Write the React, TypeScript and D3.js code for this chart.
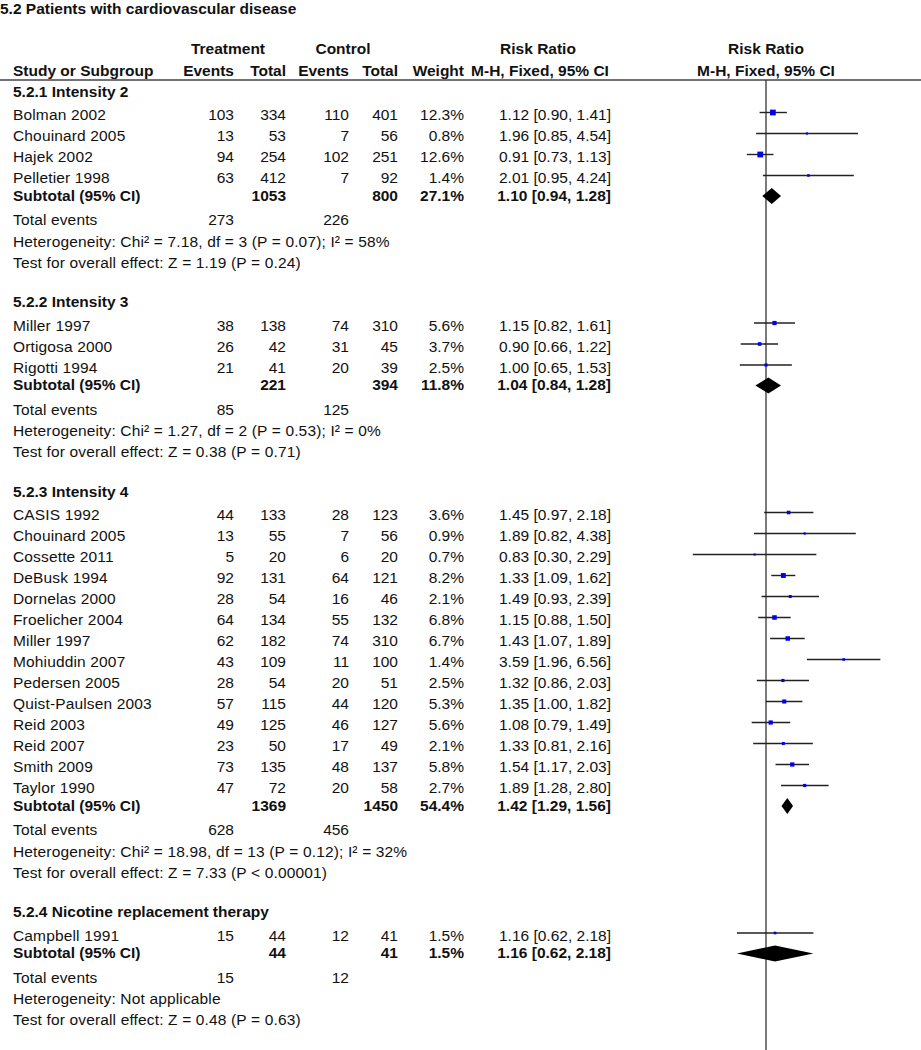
import React from 'react';
import * as d3 from 'd3';

type Study = { name: string; te: number; tt: number; ce: number; ct: number; w: number; rr: number; lo: number; hi: number };

const groupTitles = [
  '5.2.1 Intensity 2',
  '5.2.2 Intensity 3',
  '5.2.3 Intensity 4',
  '5.2.4 Nicotine replacement therapy',
];

const intensity2: Study[] = [
  { name: 'Bolman 2002', te: 103, tt: 334, ce: 110, ct: 401, w: 12.3, rr: 1.12, lo: 0.90, hi: 1.41 },
  { name: 'Chouinard 2005', te: 13, tt: 53, ce: 7, ct: 56, w: 0.8, rr: 1.96, lo: 0.85, hi: 4.54 },
  { name: 'Hajek 2002', te: 94, tt: 254, ce: 102, ct: 251, w: 12.6, rr: 0.91, lo: 0.73, hi: 1.13 },
  { name: 'Pelletier 1998', te: 63, tt: 412, ce: 7, ct: 92, w: 1.4, rr: 2.01, lo: 0.95, hi: 4.24 },
];

const intensity3: Study[] = [
  { name: 'Miller 1997', te: 38, tt: 138, ce: 74, ct: 310, w: 5.6, rr: 1.15, lo: 0.82, hi: 1.61 },
  { name: 'Ortigosa 2000', te: 26, tt: 42, ce: 31, ct: 45, w: 3.7, rr: 0.90, lo: 0.66, hi: 1.22 },
  { name: 'Rigotti 1994', te: 21, tt: 41, ce: 20, ct: 39, w: 2.5, rr: 1.00, lo: 0.65, hi: 1.53 },
];

const intensity4: Study[] = [
  { name: 'CASIS 1992', te: 44, tt: 133, ce: 28, ct: 123, w: 3.6, rr: 1.45, lo: 0.97, hi: 2.18 },
  { name: 'Chouinard 2005', te: 13, tt: 55, ce: 7, ct: 56, w: 0.9, rr: 1.89, lo: 0.82, hi: 4.38 },
  { name: 'Cossette 2011', te: 5, tt: 20, ce: 6, ct: 20, w: 0.7, rr: 0.83, lo: 0.30, hi: 2.29 },
  { name: 'DeBusk 1994', te: 92, tt: 131, ce: 64, ct: 121, w: 8.2, rr: 1.33, lo: 1.09, hi: 1.62 },
  { name: 'Dornelas 2000', te: 28, tt: 54, ce: 16, ct: 46, w: 2.1, rr: 1.49, lo: 0.93, hi: 2.39 },
  { name: 'Froelicher 2004', te: 64, tt: 134, ce: 55, ct: 132, w: 6.8, rr: 1.15, lo: 0.88, hi: 1.50 },
  { name: 'Miller 1997', te: 62, tt: 182, ce: 74, ct: 310, w: 6.7, rr: 1.43, lo: 1.07, hi: 1.89 },
  { name: 'Mohiuddin 2007', te: 43, tt: 109, ce: 11, ct: 100, w: 1.4, rr: 3.59, lo: 1.96, hi: 6.56 },
  { name: 'Pedersen 2005', te: 28, tt: 54, ce: 20, ct: 51, w: 2.5, rr: 1.32, lo: 0.86, hi: 2.03 },
  { name: 'Quist-Paulsen 2003', te: 57, tt: 115, ce: 44, ct: 120, w: 5.3, rr: 1.35, lo: 1.00, hi: 1.82 },
  { name: 'Reid 2003', te: 49, tt: 125, ce: 46, ct: 127, w: 5.6, rr: 1.08, lo: 0.79, hi: 1.49 },
  { name: 'Reid 2007', te: 23, tt: 50, ce: 17, ct: 49, w: 2.1, rr: 1.33, lo: 0.81, hi: 2.16 },
  { name: 'Smith 2009', te: 73, tt: 135, ce: 48, ct: 137, w: 5.8, rr: 1.54, lo: 1.17, hi: 2.03 },
  { name: 'Taylor 1990', te: 47, tt: 72, ce: 20, ct: 58, w: 2.7, rr: 1.89, lo: 1.28, hi: 2.80 },
];

const nrt: Study[] = [
  { name: 'Campbell 1991', te: 15, tt: 44, ce: 12, ct: 41, w: 1.5, rr: 1.16, lo: 0.62, hi: 2.18 },
];

const groupStudies = [intensity2, intensity3, intensity4, nrt];

// subtotal: treatment total, control total, weight, RR, lower, upper
const subtotals = [
  { tt: 1053, ct: 800, w: 27.1, rr: 1.10, lo: 0.94, hi: 1.28 },
  { tt: 221, ct: 394, w: 11.8, rr: 1.04, lo: 0.84, hi: 1.28 },
  { tt: 1369, ct: 1450, w: 54.4, rr: 1.42, lo: 1.29, hi: 1.56 },
  { tt: 44, ct: 41, w: 1.5, rr: 1.16, lo: 0.62, hi: 2.18 },
];

const totalEvents = [[273, 226], [85, 125], [628, 456], [15, 12]];

const heterogeneity = [
  'Heterogeneity: Chi² = 7.18, df = 3 (P = 0.07); I² = 58%',
  'Heterogeneity: Chi² = 1.27, df = 2 (P = 0.53); I² = 0%',
  'Heterogeneity: Chi² = 18.98, df = 13 (P = 0.12); I² = 32%',
  'Heterogeneity: Not applicable',
];

const overallTests = [
  'Test for overall effect: Z = 1.19 (P = 0.24)',
  'Test for overall effect: Z = 0.38 (P = 0.71)',
  'Test for overall effect: Z = 7.33 (P < 0.00001)',
  'Test for overall effect: Z = 0.48 (P = 0.63)',
];

const width = 921;
const height = 1050;
const fontSize = 15.5;
const ink = '#111';

// column right edges
const col = { te: 234, tt: 286, ce: 349, ct: 398, w: 464, ci: 611 };

const x = d3.scaleLog().domain([0.1, 10]).range([626, 906]);
const boxSize = d3.scaleSqrt().domain([0, 12.6]).range([1, 5.8]);
const f2 = d3.format('.2f');
const ciText = (d: { rr: number; lo: number; hi: number }) => `${f2(d.rr)} [${f2(d.lo)}, ${f2(d.hi)}]`;

const App = () => {
  // lay out row centers
  let y = 91;
  const groups = groupTitles.map((title, gi) => {
    const header = y;
    y += 23.5;
    const rows = groupStudies[gi].map((s, i) => ({ s, y: y + i * 21 }));
    y += (rows.length - 1) * 21 + 17.5;
    const sub = y;
    y += 24.5;
    const te = y;
    y += 21.5;
    const het = y;
    y += 21;
    const test = y;
    y += 39.5;
    return { title, header, rows, sub, te, het, test, gi };
  });

  const bl = (c: number) => c + 5.5;

  return (
    <svg
      width={width}
      height={height}
      viewBox={`0 0 ${width} ${height}`}
      style={{ position: 'absolute', left: 0, top: 0, background: '#fff' }}
      fontFamily="'Liberation Sans', Arial, sans-serif"
      fontSize={fontSize}
      fill={ink}
    >
      <text x={0} y={14} fontWeight="bold">5.2 Patients with cardiovascular disease</text>

      <g fontWeight="bold">
        <text x={228} y={54} textAnchor="middle">Treatment</text>
        <text x={343} y={54} textAnchor="middle">Control</text>
        <text x={538} y={54} textAnchor="middle">Risk Ratio</text>
        <text x={x(1)} y={54} textAnchor="middle">Risk Ratio</text>
        <text x={13} y={76}>Study or Subgroup</text>
        <text x={col.te} y={76} textAnchor="end">Events</text>
        <text x={col.tt} y={76} textAnchor="end">Total</text>
        <text x={col.ce} y={76} textAnchor="end">Events</text>
        <text x={col.ct} y={76} textAnchor="end">Total</text>
        <text x={col.w} y={76} textAnchor="end">Weight</text>
        <text x={540} y={76} textAnchor="middle">M-H, Fixed, 95% CI</text>
        <text x={x(1)} y={76} textAnchor="middle">M-H, Fixed, 95% CI</text>
      </g>
      <line x1={0} x2={width} y1={80} y2={80} stroke="#444" strokeWidth={1.5} />
      <line x1={x(1)} x2={x(1)} y1={80} y2={height} stroke="#333" strokeWidth={1.3} />

      {groups.map(g => (
        <g key={g.gi}>
          <text x={13} y={bl(g.header)} fontWeight="bold">{g.title}</text>
          {g.rows.map(({ s, y: cy }) => {
            const b = boxSize(s.w);
            const my = cy - 2;
            return (
              <g key={s.name}>
                <text x={13} y={bl(cy)} letterSpacing={0.15}>{s.name}</text>
                <text x={col.te} y={bl(cy)} textAnchor="end">{s.te}</text>
                <text x={col.tt} y={bl(cy)} textAnchor="end">{s.tt}</text>
                <text x={col.ce} y={bl(cy)} textAnchor="end">{s.ce}</text>
                <text x={col.ct} y={bl(cy)} textAnchor="end">{s.ct}</text>
                <text x={col.w} y={bl(cy)} textAnchor="end">{`${s.w.toFixed(1)}%`}</text>
                <text x={col.ci} y={bl(cy)} textAnchor="end">{ciText(s)}</text>
                <line x1={x(s.lo)} x2={x(s.hi)} y1={my} y2={my} stroke="#222" strokeWidth={1.4} />
                <rect x={x(s.rr) - b / 2} y={my - b / 2} width={b} height={b} fill="#0000ee" />
              </g>
            );
          })}
          <g fontWeight="bold">
            <text x={13} y={bl(g.sub)}>Subtotal (95% CI)</text>
            <text x={col.tt} y={bl(g.sub)} textAnchor="end">{subtotals[g.gi].tt}</text>
            <text x={col.ct} y={bl(g.sub)} textAnchor="end">{subtotals[g.gi].ct}</text>
            <text x={col.w} y={bl(g.sub)} textAnchor="end">{`${subtotals[g.gi].w.toFixed(1)}%`}</text>
            <text x={col.ci} y={bl(g.sub)} textAnchor="end">{ciText(subtotals[g.gi])}</text>
          </g>
          <path
            d={`M${x(subtotals[g.gi].lo)},${g.sub + 1} L${x(subtotals[g.gi].rr)},${g.sub - 7} L${x(subtotals[g.gi].hi)},${g.sub + 1} L${x(subtotals[g.gi].rr)},${g.sub + 9} Z`}
            fill="#000"
          />
          <g letterSpacing={0.15}>
            <text x={13} y={bl(g.te)}>Total events</text>
            <text x={13} y={bl(g.het)}>{heterogeneity[g.gi]}</text>
            <text x={13} y={bl(g.test)}>{overallTests[g.gi]}</text>
          </g>
          <text x={col.te} y={bl(g.te)} textAnchor="end">{totalEvents[g.gi][0]}</text>
          <text x={col.ce} y={bl(g.te)} textAnchor="end">{totalEvents[g.gi][1]}</text>
        </g>
      ))}
    </svg>
  );
};

export default App;
